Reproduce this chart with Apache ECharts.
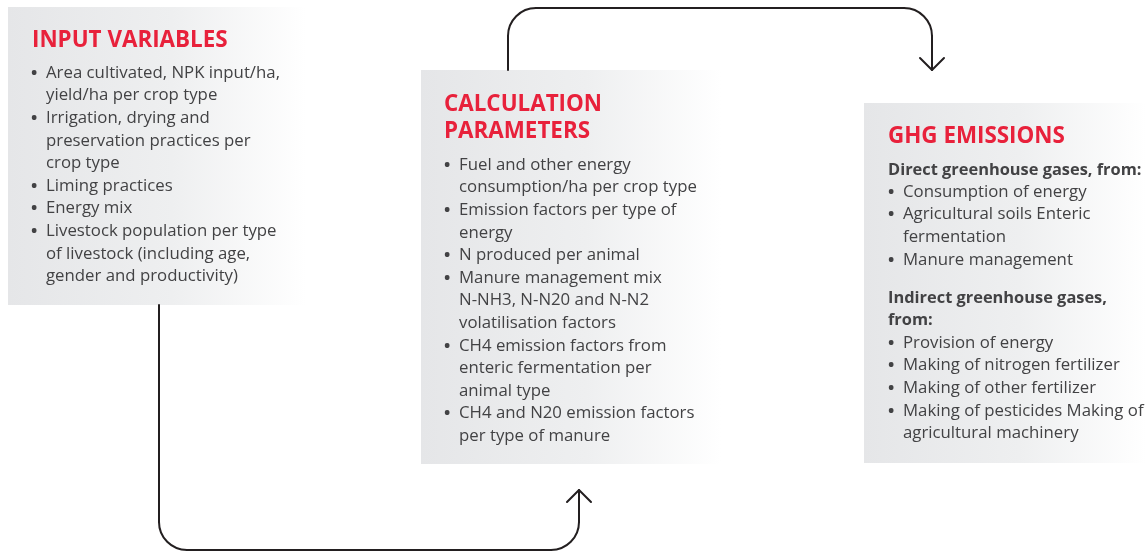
<!DOCTYPE html>
<html>
<head>
<meta charset="utf-8">
<script src="https://cdn.jsdelivr.net/npm/echarts@6/dist/echarts.min.js"></script>
<style>
  html, body { margin: 0; padding: 0; background: #fff; }
  #chart { width: 1146px; height: 552px; }
</style>
</head>
<body>
<div id="chart"></div>
<script>
// box contents, one inner array per bullet (already wrapped like the original)
const inputTitle = ['INPUT VARIABLES']
const inputItems = [
  ['Area cultivated, NPK input/ha,', 'yield/ha per crop type'],
  ['Irrigation, drying and', 'preservation practices per', 'crop type'],
  ['Liming practices'],
  ['Energy mix'],
  ['Livestock population per type', 'of livestock (including age,', 'gender and productivity)'],
]

const calcTitle = ['CALCULATION', 'PARAMETERS']
const calcItems = [
  ['Fuel and other energy', 'consumption/ha per crop type'],
  ['Emission factors per type of', 'energy'],
  ['N produced per animal'],
  ['Manure management mix', 'N-NH3, N-N20 and N-N2', 'volatilisation factors'],
  ['CH4 emission factors from', 'enteric fermentation per', 'animal type'],
  ['CH4 and N20 emission factors', 'per type of manure'],
]

const ghgTitle = ['GHG EMISSIONS']
const directHeading = ['Direct greenhouse gases, from:']
const directItems = [
  ['Consumption of energy'],
  ['Agricultural soils Enteric', 'fermentation'],
  ['Manure management'],
]
const indirectHeading = ['Indirect greenhouse gases,', 'from:']
const indirectItems = [
  ['Provision of energy'],
  ['Making of nitrogen fertilizer'],
  ['Making of other fertilizer'],
  ['Making of pesticides Making of', 'agricultural machinery'],
]

const RED = '#e8213b'
const GREY = '#424244'
const LINE = 22.6
const TITLE_LINE = 27
const TITLE_FONT = 'bold 22.4px "Open Sans"'
const BODY_FONT = '500 16.8px "Open Sans"'
const HEAD_FONT = 'bold 16.4px "Open Sans"'
const DOT_FONT = 'bold 16.8px "Open Sans"'

const boxFill = {
  type: 'linear', x: 0, y: 0, x2: 1, y2: 0,
  colorStops: [
    { offset: 0, color: '#e5e6e8' },
    { offset: 0.55, color: '#eeeff0' },
    { offset: 1, color: '#ffffff' },
  ],
}

const elements = []

function box(x, y, w, h) {
  elements.push({ type: 'rect', shape: { x, y, width: w, height: h }, style: { fill: boxFill }, z: 1 })
}

function lines(list, x, y, font, color, step = LINE) {
  list.forEach((t, i) => {
    elements.push({
      type: 'text', x, y: y + i * step, z: 5,
      style: { text: t, font, fill: color, verticalAlign: 'middle' },
    })
  })
  return y + list.length * step
}

function bullets(items, bx, tx, y) {
  items.forEach(item => {
    elements.push({
      type: 'text', x: bx, y, z: 5,
      style: { text: '•', font: DOT_FONT, fill: GREY, verticalAlign: 'middle' },
    })
    y = lines(item, tx, y, BODY_FONT, GREY)
  })
  return y
}

// INPUT VARIABLES
box(8, 7, 298, 298)
lines(inputTitle, 32, 41, TITLE_FONT, RED)
bullets(inputItems, 31, 46, 73)

// CALCULATION PARAMETERS
box(421, 70, 300, 394)
lines(calcTitle, 444, 105, TITLE_FONT, RED, TITLE_LINE)
bullets(calcItems, 444, 459, 165)

// GHG EMISSIONS
box(864, 103, 282, 360)
lines(ghgTitle, 888, 137, TITLE_FONT, RED)
lines(directHeading, 888, 170, HEAD_FONT, GREY)
bullets(directItems, 888, 903, 192)
lines(indirectHeading, 888, 298, HEAD_FONT, GREY)
bullets(indirectItems, 888, 903, 343)

// connector arrows: straight runs, rounded corners, chevron heads
const arrowStyle = { stroke: '#231f20', lineWidth: 2, fill: null, lineCap: 'round', lineJoin: 'round' }
const R = 28
function seg(points) {
  elements.push({ type: 'polyline', z: 3, shape: { points }, style: arrowStyle })
}
function corner(cx, cy, a0, a1) {
  elements.push({ type: 'arc', z: 3, shape: { cx, cy, r: R, startAngle: a0, endAngle: a1, clockwise: true }, style: arrowStyle })
}
const PI = Math.PI

// top: calculation -> ghg
seg([[508, 70], [508, 8 + R]])
corner(508 + R, 8 + R, PI, 1.5 * PI)
seg([[508 + R, 8], [932 - R, 8]])
corner(932 - R, 8 + R, 1.5 * PI, 2 * PI)
seg([[932, 8 + R], [932, 70]])
seg([[920, 58], [932, 70], [944, 58]])

// bottom: input -> calculation
seg([[159, 305], [159, 550 - R]])
corner(159 + R, 550 - R, 0.5 * PI, PI)
seg([[159 + R, 550], [579 - R, 550]])
corner(579 - R, 550 - R, 0, 0.5 * PI)
seg([[579, 550 - R], [579, 490]])
seg([[567, 502], [579, 490], [591, 502]])

const chart = echarts.init(document.getElementById('chart'))
chart.setOption({
  backgroundColor: '#ffffff',
  animation: false,
  graphic: { elements },
})
</script>
</body>
</html>
